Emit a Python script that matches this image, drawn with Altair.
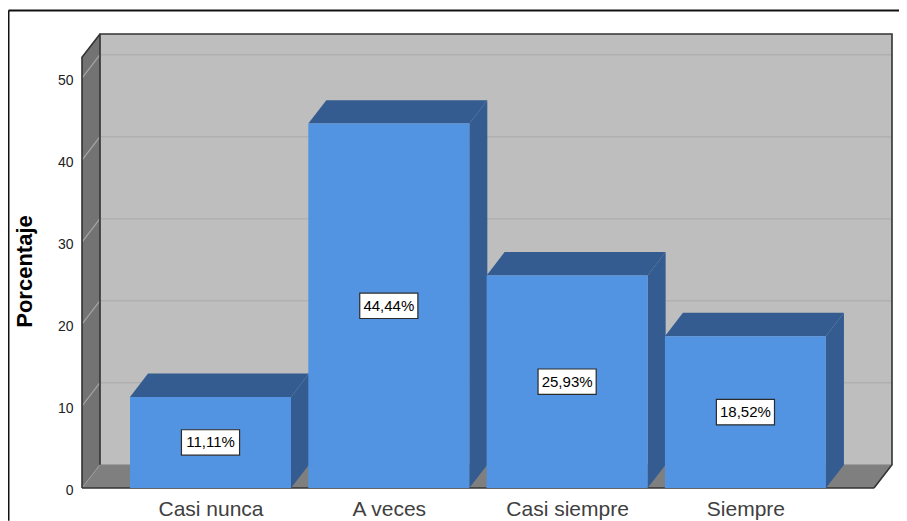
import altair as alt
import pandas as pd

categories = ["Casi nunca", "A veces", "Casi siempre", "Siempre"]
values = [11.11, 44.44, 25.93, 18.52]
labels = ["11,11%", "44,44%", "25,93%", "18,52%"]
ticks = [0, 10, 20, 30, 40, 50]

# Scales: x in category units (178.3 px per category), y in percent (8.2 px per unit)
XMIN, XMAX = -0.7207, 3.822
YMAX = 55.37
DX, DY = 0.101, 2.85          # depth of the 3D effect
HALF = 0.4515                 # half a bar
BOXW, BOXH = 0.163, 1.55      # half size of a label box
FRAME_L, FRAME_T = -1.1329, 58.25
FRAME_R, FRAME_B = 3.92, -4.0

x_scale = alt.Scale(domain=[XMIN, XMAX], nice=False, zero=False)
y_scale = alt.Scale(domain=[0, YMAX], nice=False, zero=False)

x_axis = alt.Axis(
    values=[0, 1, 2, 3], title=None, grid=False, domain=False, ticks=False,
    labelExpr="[" + ",".join(f"'{c}'" for c in categories) + "][datum.value]",
    labelFont="Liberation Sans", labelFontSize=21, labelColor="#404040",
    labelPadding=10,
)
y_axis = alt.Axis(
    values=ticks, title="Porcentaje", grid=False, domain=False, ticks=False,
    labelFont="Liberation Sans", labelFontSize=14, labelColor="#222222",
    labelPadding=9, labelOffset=2,
    titleFont="Liberation Sans", titleFontSize=22, titleFontWeight="bold",
    titleColor="#000000", titlePadding=21, titleY=237,
)


def X(field="x"):
    return alt.X(f"{field}:Q", scale=x_scale, axis=x_axis)


def Y(field="y"):
    return alt.Y(f"{field}:Q", scale=y_scale, axis=y_axis)


def prism(x0, x1, y0, y1, name):
    """Top and side faces as sloped areas."""
    top = [
        (x0, y1, y1), (x0 + DX, y1 + DY, y1),
        (x1, y1 + DY, y1), (x1 + DX, y1 + DY, y1 + DY),
    ]
    side = [(x1, y1, y0), (x1 + DX, y1 + DY, y0 + DY)]
    return [dict(k=f"{name}t", x=a, y=b, y2=c) for a, b, c in top] + [
        dict(k=f"{name}s", x=a, y=b, y2=c) for a, b, c in side
    ]


def area(rows, color):
    return (
        alt.Chart(pd.DataFrame(rows))
        .mark_area(color=color, orient="vertical", opacity=1, line=False)
        .encode(x=X(), y=Y(), y2=alt.Y2("y2:Q"), detail="k:N")
    )


def seg(rows, color, w):
    df = pd.DataFrame(rows)
    df["o"] = range(len(df))
    return (
        alt.Chart(df)
        .mark_line(color=color, strokeWidth=w)
        .encode(x=X(), y=Y(), detail="k:N", order="o:Q")
    )


back = (
    alt.Chart(pd.DataFrame({"x": [XMIN + DX], "x2": [XMAX], "y": [DY], "y2": [YMAX]}))
    .mark_rect(color="#BEBEBE")
    .encode(x=X(), x2="x2:Q", y=Y(), y2="y2:Q")
)
grid_back = (
    alt.Chart(pd.DataFrame({"x": [XMIN + DX] * 5, "x2": [XMAX] * 5, "y": [t + DY for t in ticks[1:]]}))
    .mark_rule(color="#B0B0B0", strokeWidth=1.5)
    .encode(x=X(), x2="x2:Q", y=Y())
)
wall = area(
    [dict(k="w", x=XMIN, y=YMAX - DY, y2=0), dict(k="w", x=XMIN + DX, y=YMAX, y2=DY)],
    "#737373",
)
floor = area(
    [
        dict(k="f", x=XMIN, y=0, y2=0), dict(k="f", x=XMIN + DX, y=DY, y2=0),
        dict(k="f", x=XMAX - DX, y=DY, y2=0), dict(k="f", x=XMAX, y=DY, y2=DY),
    ],
    "#7F7F7F",
)
wall_rows = []
for t in ticks[1:]:
    wall_rows += [dict(k=f"g{t}", x=XMIN, y=t), dict(k=f"g{t}", x=XMIN + DX, y=t + DY)]
grid_wall = seg(wall_rows, "#A6A6A6", 1.2)

edges_dark = seg(
    [
        dict(k="a", x=XMIN + DX, y=DY), dict(k="a", x=XMIN + DX, y=YMAX),
        dict(k="a", x=XMAX, y=YMAX), dict(k="a", x=XMAX, y=DY),
        dict(k="a", x=XMAX - DX, y=0),
        dict(k="b", x=XMIN, y=0), dict(k="b", x=XMAX - DX, y=0),
        dict(k="c", x=XMIN, y=0), dict(k="c", x=XMIN, y=YMAX - DY),
        dict(k="c", x=XMIN + DX, y=YMAX),
    ],
    "#333333", 1.6,
)
edges_light = seg(
    [dict(k="d", x=XMIN, y=0), dict(k="d", x=XMIN + DX, y=DY), dict(k="d", x=XMAX, y=DY)],
    "#9A9A9A", 1,
)

face_rows, prism_rows, box_rows = [], [], []
for i, v in enumerate(values):
    x0, x1 = i - HALF, i + HALF
    face_rows.append(dict(x=x0, x2=x1, y=0, y2=v))
    prism_rows += prism(x0, x1, 0, v, f"b{i}")
    box_rows.append(dict(x=i - BOXW, x2=i + BOXW, y=v / 2 - BOXH, y2=v / 2 + BOXH,
                         cx=i, cy=v / 2, label=labels[i]))

faces = (
    alt.Chart(pd.DataFrame(face_rows))
    .mark_rect(color="#5294E2")
    .encode(x=X(), x2="x2:Q", y=Y(), y2="y2:Q")
)
prisms = area(prism_rows, "#345C91")
box_df = pd.DataFrame(box_rows)
boxes = (
    alt.Chart(box_df)
    .mark_rect(fill="#FFFFFF", stroke="#2B2B2B", strokeWidth=1.2)
    .encode(x=X(), x2="x2:Q", y=Y(), y2="y2:Q")
)
box_text = (
    alt.Chart(box_df)
    .mark_text(font="Liberation Sans", fontSize=15, color="#000000", align="center", baseline="middle")
    .encode(x=X("cx"), y=Y("cy"), text="label:N")
)

frame = (
    alt.Chart(pd.DataFrame([
        dict(x=FRAME_L, x2=FRAME_L, y=FRAME_B, y2=FRAME_T),
        dict(x=FRAME_L, x2=FRAME_R, y=FRAME_T, y2=FRAME_T),
    ]))
    .mark_rule(color="#111111", strokeWidth=2)
    .encode(x=X(), x2="x2:Q", y=Y(), y2="y2:Q")
)

chart = (
    alt.layer(
        back, grid_back, wall, grid_wall, floor, edges_light, edges_dark,
        prisms, faces, boxes, box_text, frame,
    )
    .properties(
        width=810, height=454, background="#FFFFFF",
        padding={"left": 74, "top": 26, "right": 7, "bottom": 33},
        autosize=alt.AutoSizeParams(type="none"),
    )
    .configure_view(stroke=None)
)

chart.save("out.html", embed_options={"renderer": "svg", "actions": False})
